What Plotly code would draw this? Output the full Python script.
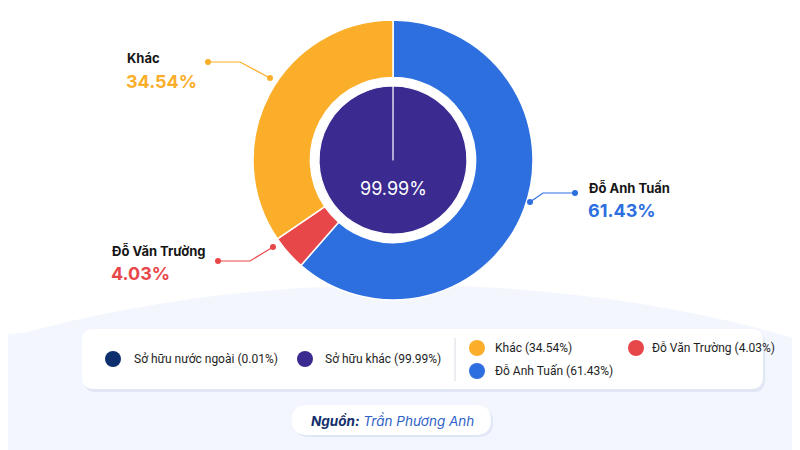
import plotly.graph_objects as go

W, H = 800, 450
OFF = 8  # page body margin shifts the figure on screen

# outer ring: main shareholders
outer_labels = ["Đỗ Anh Tuấn", "Đỗ Văn Trường", "Khác"]
outer_values = [61.43, 4.03, 34.54]
outer_colors = ["#2D6FDF", "#E8474A", "#FBAE29"]

# inner disc: ownership type
inner_labels = ["Sở hữu nước ngoài", "Sở hữu khác"]
inner_values = [0.01, 99.99]
inner_colors = ["#0D2F6E", "#3B2A90"]

source_name = "Trần Phương Anh"


def px(x):
    return (x - OFF) / W


def py(y):
    return 1 - (y - OFF) / H


def rounded_rect(x0, y0, x1, y1, r):
    # svg path in paper coords, corners rounded with quadratic curves
    pts = [
        f"M {px(x0 + r)} {py(y0)}",
        f"L {px(x1 - r)} {py(y0)}",
        f"Q {px(x1)} {py(y0)} {px(x1)} {py(y0 + r)}",
        f"L {px(x1)} {py(y1 - r)}",
        f"Q {px(x1)} {py(y1)} {px(x1 - r)} {py(y1)}",
        f"L {px(x0 + r)} {py(y1)}",
        f"Q {px(x0)} {py(y1)} {px(x0)} {py(y1 - r)}",
        f"L {px(x0)} {py(y0 + r)}",
        f"Q {px(x0)} {py(y0)} {px(x0 + r)} {py(y0)}",
        "Z",
    ]
    return " ".join(pts)


def note(x, y, text, size, color, xanchor="left", family="Inter"):
    return dict(x=px(x), y=py(y), xref="paper", yref="paper", showarrow=False,
                xanchor=xanchor, yanchor="middle", text=text,
                font=dict(size=size, color=color, family=family))


cx, cy = 393, 160
r_out, r_in = 140, 74

fig = go.Figure()
fig.add_trace(go.Pie(
    labels=outer_labels, values=outer_values, sort=False, direction="clockwise",
    hole=0.59, textinfo="none",
    marker=dict(colors=outer_colors, line=dict(color="white", width=1.5)),
    domain=dict(x=[px(cx - r_out), px(cx + r_out)], y=[py(cy + r_out), py(cy - r_out)]),
    showlegend=False,
))
fig.add_trace(go.Pie(
    labels=inner_labels, values=inner_values, sort=False, direction="clockwise",
    textinfo="none",
    marker=dict(colors=inner_colors, line=dict(color="white", width=1.2)),
    domain=dict(x=[px(cx - r_in), px(cx + r_in)], y=[py(cy + r_in), py(cy - r_in)]),
    showlegend=False,
))

shapes = []
annotations = []

# soft background tint
shapes.append(dict(type="circle", xref="paper", yref="paper", x0=px(-300), x1=px(1100),
                   y0=py(900), y1=py(285), fillcolor="#EBF0FC", opacity=0.6,
                   line_width=0, layer="below"))
shapes.append(dict(type="circle", xref="paper", yref="paper", x0=px(-500), x1=px(700),
                   y0=py(1000), y1=py(330), fillcolor="#F3F6FE", opacity=0.8,
                   line_width=0, layer="below"))
shapes.append(dict(type="circle", xref="paper", yref="paper", x0=px(373), x1=px(413),
                   y0=py(6), y1=py(-14), fillcolor="#9CC3FF", opacity=0.3,
                   line_width=0, layer="below"))

# center value
annotations.append(note(cx, 188, f"{inner_values[1]:.2f}%", 18, "white", "center"))

# callouts: (index, text x, name y, line points)
callouts = [
    (2, 125, 58, [(208, 62), (240, 62), (270, 78)]),
    (1, 110, 250, [(218, 261), (250, 261), (273, 247)]),
    (0, 587, 187, [(575, 193), (543, 193), (530, 202)]),
]
for i, tx, ty, pts in callouts:
    col = outer_colors[i]
    path = "M " + " L ".join(f"{px(x)} {py(y)}" for x, y in pts)
    shapes.append(dict(type="path", xref="paper", yref="paper", path=path,
                       line=dict(color=col, width=1.2)))
    for x, y in (pts[0], pts[-1]):
        shapes.append(dict(type="circle", xref="paper", yref="paper",
                           x0=px(x - 3), x1=px(x + 3), y0=py(y + 3), y1=py(y - 3),
                           fillcolor=col, line_width=0))
    annotations.append(note(tx, ty, f"<b>{outer_labels[i]}</b>", 13, "#151515"))
    annotations.append(note(tx - 1, ty + 23, f"<b>{outer_values[i]:.2f}%</b>", 18, col))

# legend box
shapes.append(dict(type="path", xref="paper", yref="paper",
                   path=rounded_rect(84, 332, 765, 392, 12),
                   fillcolor="#D3DCEE", opacity=0.6, line_width=0))
shapes.append(dict(type="path", xref="paper", yref="paper",
                   path=rounded_rect(82, 329, 763, 389, 12),
                   fillcolor="white", line_width=0))
shapes.append(dict(type="line", xref="paper", yref="paper", x0=px(455), x1=px(455),
                   y0=py(338), y1=py(381), line=dict(color="#D8DCE4", width=1)))

legend_items = [
    (inner_labels[0], inner_values[0], inner_colors[0], 113, 359, 19),
    (inner_labels[1], inner_values[1], inner_colors[1], 305, 359, 18),
    (outer_labels[2], outer_values[2], outer_colors[2], 477, 348, 16),
    (outer_labels[1], outer_values[1], outer_colors[1], 636, 348, 14),
    (outer_labels[0], outer_values[0], outer_colors[0], 477, 371, 16),
]
for lab, val, col, x, y, gap in legend_items:
    shapes.append(dict(type="circle", xref="paper", yref="paper",
                       x0=px(x - 8), x1=px(x + 8), y0=py(y + 8), y1=py(y - 8),
                       fillcolor=col, line_width=0))
    annotations.append(note(x + gap, y, f"{lab} ({val:.2f}%)", 12, "#1E1E1E",
                            family="Roboto"))

# source pill
shapes.append(dict(type="path", xref="paper", yref="paper",
                   path=rounded_rect(294, 407, 493, 437, 15),
                   fillcolor="#D3DCEE", opacity=0.6, line_width=0))
shapes.append(dict(type="path", xref="paper", yref="paper",
                   path=rounded_rect(292, 405, 491, 435, 15),
                   fillcolor="white", line_width=0))
annotations.append(note(392, 420,
                        f"<b><i><span style='color:#142F6B'>Nguồn:</span></i></b>"
                        f"<i> {source_name}</i>", 13.5, "#2F62C8", "center"))

fig.update_layout(
    width=W, height=H,
    margin=dict(l=0, r=0, t=0, b=0),
    paper_bgcolor="#FFFFFF",
    plot_bgcolor="#FFFFFF",
    shapes=shapes,
    annotations=annotations,
    font=dict(family="Inter"),
)

fig.write_html("out.html")
